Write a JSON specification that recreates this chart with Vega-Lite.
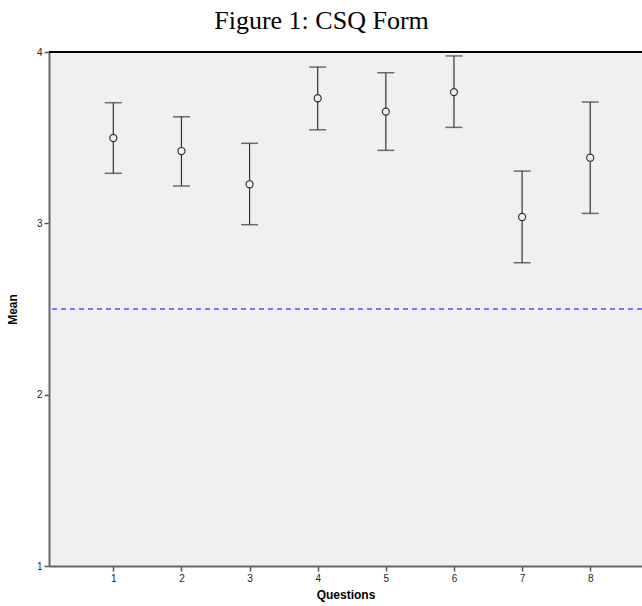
{
  "$schema": "https://vega.github.io/schema/vega-lite/v6.json",
  "autosize": {"type": "none"},
  "padding": {"left": 49, "top": 52, "right": 0, "bottom": 40},
  "width": 593,
  "height": 514,
  "background": "white",
  "title": {"text": "Figure 1: CSQ Form", "font": "Liberation Serif", "fontSize": 26, "fontWeight": "normal", "color": "black", "anchor": "middle", "dx": -24, "offset": 13},
  "config": {
    "view": {"fill": "#f0f0f0", "stroke": null},
    "axis": {"labelFont": "Liberation Sans", "labelFontSize": 10, "labelColor": "#222", "titleFont": "Liberation Sans", "titleFontSize": 12, "titleFontWeight": "bold", "titleColor": "black", "grid": false, "domainColor": "#666", "domainWidth": 2, "tickColor": "#555", "tickWidth": 1.5, "tickSize": 5}
  },
  "data": {"values": [
    {"q": 1, "mean": 3.498, "lo": 3.292, "hi": 3.704},
    {"q": 2, "mean": 3.422, "lo": 3.218, "hi": 3.622},
    {"q": 3, "mean": 3.228, "lo": 2.992, "hi": 3.467},
    {"q": 4, "mean": 3.730, "lo": 3.546, "hi": 3.912},
    {"q": 5, "mean": 3.652, "lo": 3.426, "hi": 3.879},
    {"q": 6, "mean": 3.766, "lo": 3.560, "hi": 3.977},
    {"q": 7, "mean": 3.037, "lo": 2.770, "hi": 3.305},
    {"q": 8, "mean": 3.383, "lo": 3.058, "hi": 3.708}
  ]},
  "encoding": {
    "x": {"field": "q", "type": "quantitative", "scale": {"domain": [0.056, 8.76], "nice": false, "zero": false}, "axis": {"values": [1,2,3,4,5,6,7,8], "format": "d", "title": "Questions", "titlePadding": 6, "labelPadding": 2}}
  },
  "layer": [
    {"mark": {"type": "rule", "color": "#7b7bf0", "strokeDash": [5, 4], "strokeWidth": 1.2}, "encoding": {"y": {"datum": 2.5, "type": "quantitative"}, "x": null}},
    {"mark": {"type": "rule", "color": "black", "strokeWidth": 1.5}, "encoding": {"y": {"datum": 4, "type": "quantitative"}, "x": null}},
    {"mark": {"type": "rule", "color": "#333", "strokeWidth": 1.2}, "encoding": {
      "y": {"field": "lo", "type": "quantitative", "scale": {"domain": [1, 4], "nice": false, "zero": false}, "axis": {"values": [1,2,3,4], "format": "d", "title": "Mean", "titlePadding": 17, "labelPadding": 2}},
      "y2": {"field": "hi"}}},
    {"mark": {"type": "tick", "color": "#333", "size": 17, "thickness": 1.5, "orient": "horizontal"}, "encoding": {"y": {"field": "lo", "type": "quantitative"}}},
    {"mark": {"type": "tick", "color": "#333", "size": 17, "thickness": 1.5, "orient": "horizontal"}, "encoding": {"y": {"field": "hi", "type": "quantitative"}}},
    {"mark": {"type": "point", "shape": "circle", "filled": false, "size": 50, "color": "#333", "strokeWidth": 1.2, "fill": "#f0f0f0", "fillOpacity": 1}, "encoding": {"y": {"field": "mean", "type": "quantitative"}}}
  ]
}
